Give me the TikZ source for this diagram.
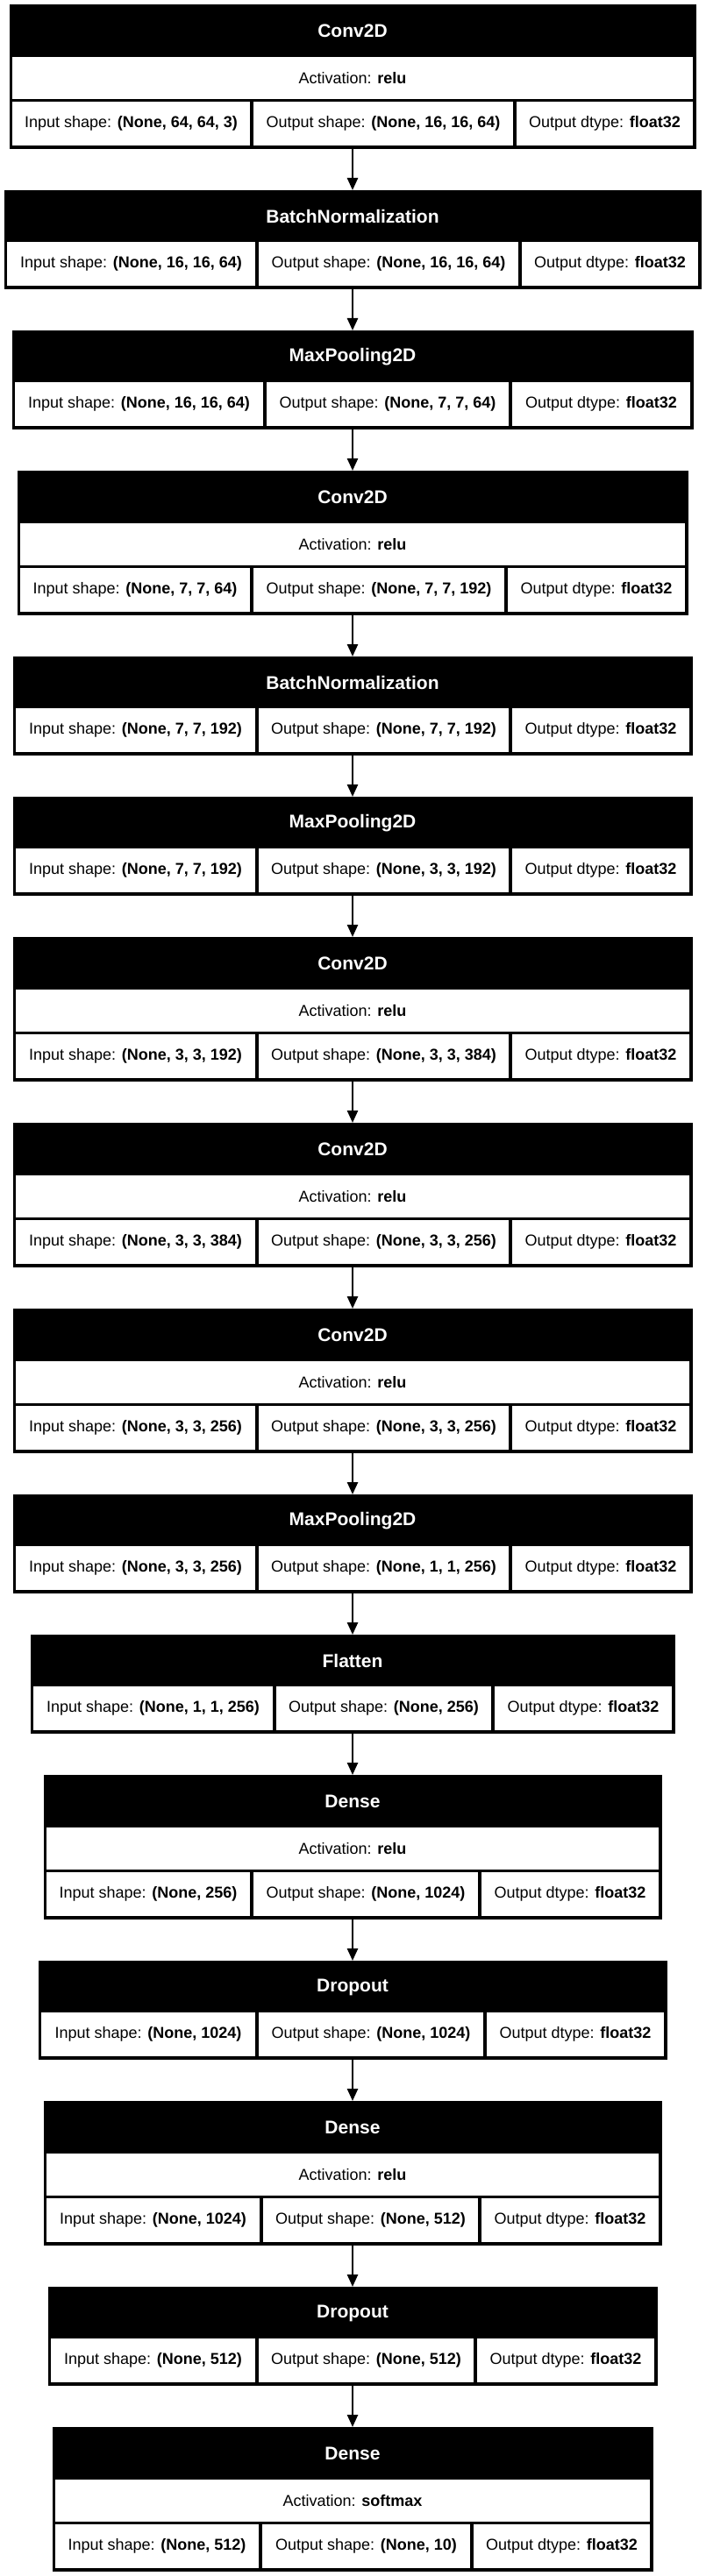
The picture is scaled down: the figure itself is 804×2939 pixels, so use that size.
\documentclass[tikz,border=0pt]{standalone}
\usepackage{fontspec}
\setmainfont{Liberation Sans}
\usetikzlibrary{arrows.meta}
\begin{document}
\begin{tikzpicture}[x=.75pt,y=-.75pt,
    blk/.style={fill=black,draw=black,inner sep=0pt,outer sep=0pt},
    cell/.style={fill=white,inner sep=0pt,minimum height=37.5pt,font=\fontsize{13.5}{16}\selectfont},
    ttl/.style={text=white,inner sep=0pt,font=\fontsize{15.75}{18}\selectfont\bfseries},
    arr/.style={line width=1.8pt,-{Triangle[length=10.5pt,width=9pt]}}]
  \useasboundingbox (0,0) rectangle (804,2939);
  \foreach \k/\ty/\hh/\lx/\da/\db/\name/\act/\ins/\outs in {
    1/5/164/11/287/587/Conv2D/relu/{(None, 64, 64, 3)}/{(None, 16, 16, 64)},
    2/217/112/5/293/593/BatchNormalization/-/{(None, 16, 16, 64)}/{(None, 16, 16, 64)},
    3/377/112/14/302/582/MaxPooling2D/-/{(None, 16, 16, 64)}/{(None, 7, 7, 64)},
    4/537/164/20/287/577/Conv2D/relu/{(None, 7, 7, 64)}/{(None, 7, 7, 192)},
    5/749/112/15/293/582/BatchNormalization/-/{(None, 7, 7, 192)}/{(None, 7, 7, 192)},
    6/909/112/15/293/582/MaxPooling2D/-/{(None, 7, 7, 192)}/{(None, 3, 3, 192)},
    7/1069/164/15/293/582/Conv2D/relu/{(None, 3, 3, 192)}/{(None, 3, 3, 384)},
    8/1281/164/15/293/582/Conv2D/relu/{(None, 3, 3, 384)}/{(None, 3, 3, 256)},
    9/1493/164/15/293/582/Conv2D/relu/{(None, 3, 3, 256)}/{(None, 3, 3, 256)},
    10/1705/112/15/293/582/MaxPooling2D/-/{(None, 3, 3, 256)}/{(None, 1, 1, 256)},
    11/1865/112/35/313/562/Flatten/-/{(None, 1, 1, 256)}/{(None, 256)},
    12/2025/164/50/287/547/Dense/relu/{(None, 256)}/{(None, 1024)},
    13/2237/112/44/293/553/Dropout/-/{(None, 1024)}/{(None, 1024)},
    14/2397/164/50/298/547/Dense/relu/{(None, 1024)}/{(None, 512)},
    15/2609/112/55/293/542/Dropout/-/{(None, 512)}/{(None, 512)},
    16/2769/164/60/297/538/Dense/softmax/{(None, 512)}/{(None, 10)}}
  {
    \node[blk,minimum width={(804-2*\lx)*.75pt},minimum height={\hh*.75pt}] (b\k) at (402,\ty+\hh/2) {};
    \node[ttl] (t\k) at (402,\ty+30) {\name};
    \ifnum\hh>150
      \node[cell,minimum width={(798-2*\lx)*.75pt},minimum height=36pt] (a\k) at (402,\ty+84) {Activation: \textbf{\act}};
    \fi
    \node[cell,minimum width={(\da-\lx-5)*.75pt}] (i\k) at ({(\lx+\da+1)/2},\ty+\hh-28) {Input shape: \textbf{\ins}};
    \node[cell,minimum width={(\db-\da-4)*.75pt}] (o\k) at ({(\da+\db)/2},\ty+\hh-28) {Output shape: \textbf{\outs}};
    \node[cell,minimum width={(799-\lx-\db)*.75pt}] (d\k) at ({(\db+803-\lx)/2},\ty+\hh-28) {Output dtype: \textbf{float32}};
  }
  \foreach \k [evaluate=\k as \j using int(\k+1)] in {1,...,15}
    \draw[arr] (b\k) -- (b\j);
\end{tikzpicture}
\end{document}
